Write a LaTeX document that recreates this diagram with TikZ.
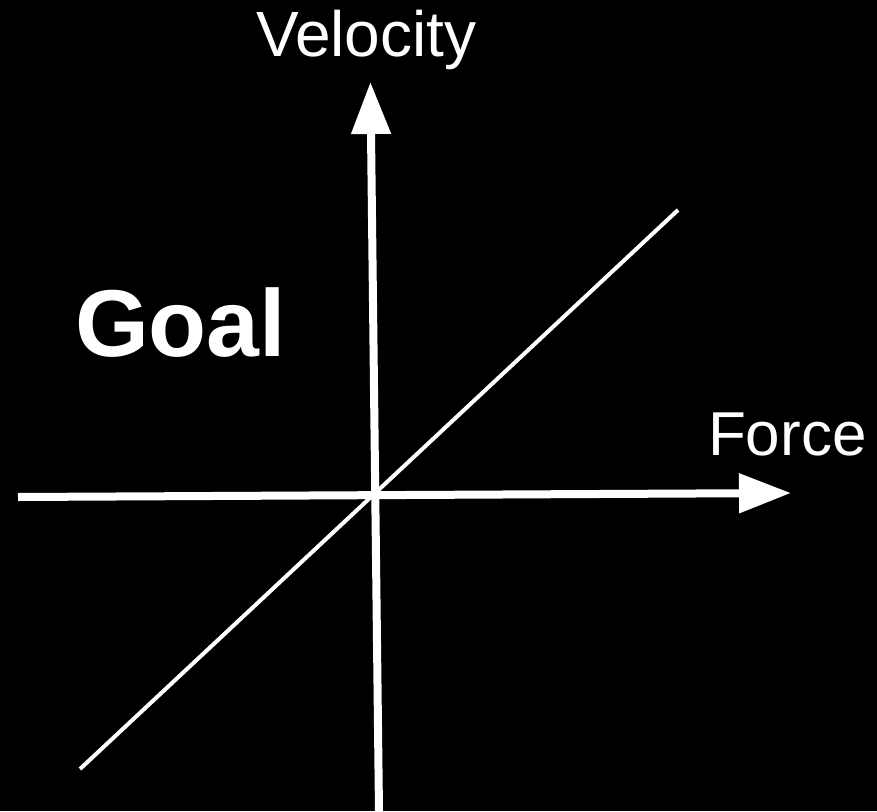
\documentclass[tikz,border=0pt]{standalone}
\usepackage{fontspec}
\setmainfont{Liberation Sans}
\usetikzlibrary{arrows.meta}
\begin{document}
\begin{tikzpicture}[x=1pt,y=-1pt,
  axis/.style={draw=white,line width=8pt,-{Triangle[length=52pt,width=38pt]}},
  diag/.style={draw=white,line width=4pt},
  lbl/.style={text=white,inner sep=0pt,outer sep=0pt,anchor=base west,font=\fontsize{62}{70}\selectfont},
  big/.style={text=white,inner sep=0pt,outer sep=0pt,anchor=base west,font=\fontsize{95}{110}\selectfont\bfseries}]
\fill[black] (0,0) rectangle (877,811);
\useasboundingbox (0,0) rectangle (877,811);
\coordinate (vb) at (379,812);
\coordinate (vt) at (370.4,82);
\coordinate (hl) at (18,497);
\coordinate (hr) at (791,493);
\coordinate (dl) at (80,769);
\coordinate (dr) at (678,210);
\draw[diag] (dl) -- (dr);
\draw[axis] (vb) -- (vt);
\draw[axis] (hl) -- (hr);
\node[lbl,font=\fontsize{64}{72}\selectfont] (vel) at (256,56) {Velocity};
\node[lbl] (force) at (708,455) {Force};
\node[big] (goal) at (75,356) {Goal};
\end{tikzpicture}
\end{document}
